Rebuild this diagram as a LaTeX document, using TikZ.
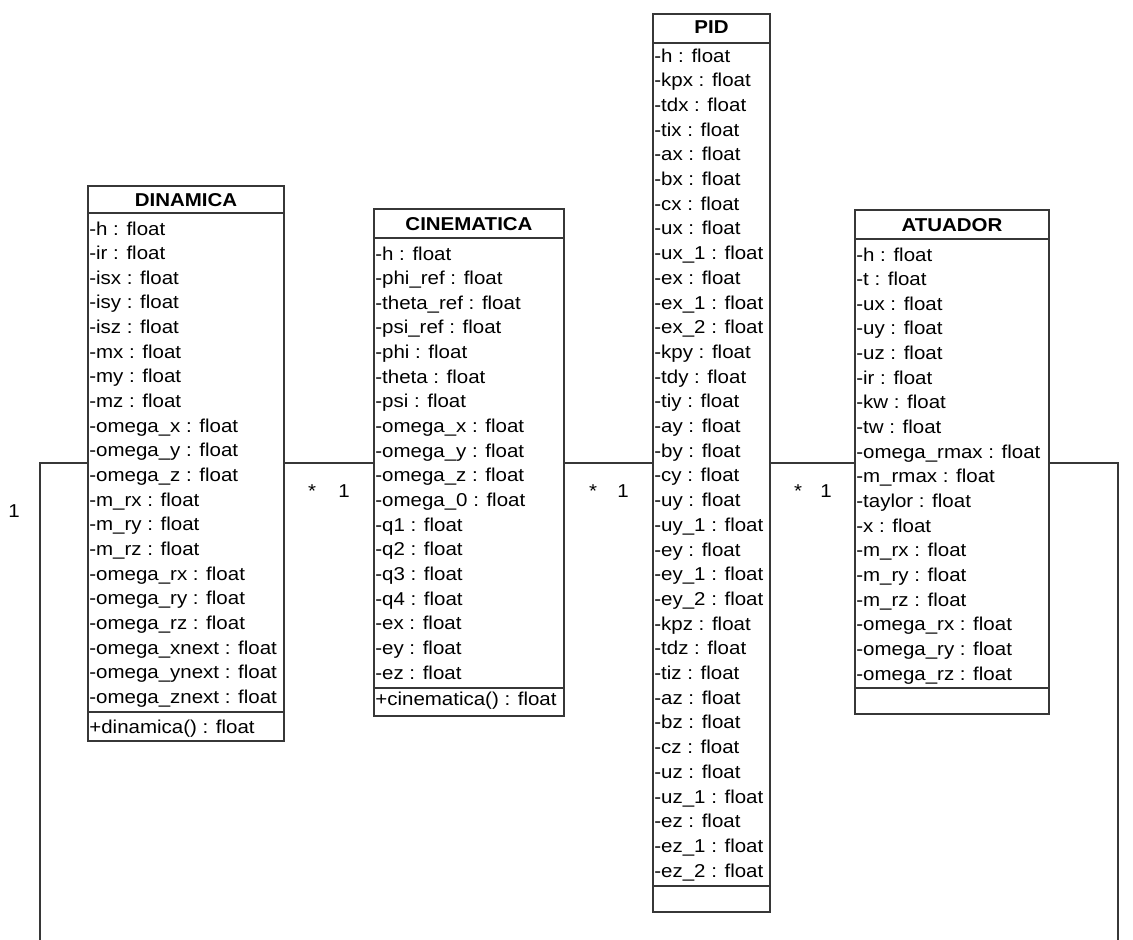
\documentclass[tikz,border=0pt]{standalone}
\usepackage{fontspec}
\setmainfont{Liberation Sans}[FakeStretch=1.1]
\usetikzlibrary{fit}
\definecolor{umlline}{RGB}{55,55,55}

\begin{document}
\begin{tikzpicture}[x=0.02cm, y=-0.02cm,
  every node/.style={font=\fontsize{10.6}{12}\selectfont, inner sep=0pt},
  classbox/.style={draw=umlline, line width=1.1pt, inner sep=0pt},
  sepline/.style={draw=umlline, line width=1.1pt},
  link/.style={draw=umlline, line width=1.1pt},
  attr/.style={anchor=base west},
  classtitle/.style={anchor=base, font=\fontsize{10.6}{12}\selectfont\bfseries},
  mult/.style={anchor=base}]
\useasboundingbox (0,0) rectangle (1133,940);
% class boxes
\coordinate (din nw) at (88,186);  \coordinate (din se) at (284,741);
\coordinate (cin nw) at (374,209); \coordinate (cin se) at (564,716);
\coordinate (pid nw) at (653,14);  \coordinate (pid se) at (770,912);
\coordinate (atu nw) at (855,210); \coordinate (atu se) at (1049,714);
\node[classbox, fit=(din nw)(din se)] (din) {};
\node[classbox, fit=(cin nw)(cin se)] (cin) {};
\node[classbox, fit=(pid nw)(pid se)] (pid) {};
\node[classbox, fit=(atu nw)(atu se)] (atu) {};
% compartments
\draw[sepline] (din.west |- 0,213) -- (din.east |- 0,213);
\draw[sepline] (din.west |- 0,712) -- (din.east |- 0,712);
\draw[sepline] (cin.west |- 0,238) -- (cin.east |- 0,238);
\draw[sepline] (cin.west |- 0,688) -- (cin.east |- 0,688);
\draw[sepline] (pid.west |- 0,43) -- (pid.east |- 0,43);
\draw[sepline] (pid.west |- 0,886) -- (pid.east |- 0,886);
\draw[sepline] (atu.west |- 0,239) -- (atu.east |- 0,239);
\draw[sepline] (atu.west |- 0,688) -- (atu.east |- 0,688);
% titles
\node[classtitle] (din title) at (186,206) {DINAMICA};
\node[classtitle] (cin title) at (469,230) {CINEMATICA};
\node[classtitle] (pid title) at (711.5,33) {PID};
\node[classtitle] (atu title) at (952,231) {ATUADOR};
% DINAMICA
\foreach \a [count=\i from 0] in {h,ir,isx,isy,isz,mx,my,mz,omega\_x,omega\_y,omega\_z,m\_rx,m\_ry,m\_rz,omega\_rx,omega\_ry,omega\_rz,omega\_xnext,omega\_ynext,omega\_znext}
  \node[attr] at (89,{235+24.65*\i}) {-\a{} : float};
\node[attr] (din op) at (89,733) {+dinamica() : float};
% CINEMATICA
\foreach \a [count=\i from 0] in {h,phi\_ref,theta\_ref,psi\_ref,phi,theta,psi,omega\_x,omega\_y,omega\_z,omega\_0,q1,q2,q3,q4,ex,ey,ez}
  \node[attr] at (375,{260+24.65*\i}) {-\a{} : float};
\node[attr] (cin op) at (375,705) {+cinematica() : float};
% PID
\foreach \a [count=\i from 0] in {h,kpx,tdx,tix,ax,bx,cx,ux,ux\_1,ex,ex\_1,ex\_2,kpy,tdy,tiy,ay,by,cy,uy,uy\_1,ey,ey\_1,ey\_2,kpz,tdz,tiz,az,bz,cz,uz,uz\_1,ez,ez\_1,ez\_2}
  \node[attr] at (654,{62+24.7*\i}) {-\a{} : float};
% ATUADOR
\foreach \a [count=\i from 0] in {h,t,ux,uy,uz,ir,kw,tw,omega\_rmax,m\_rmax,taylor,x,m\_rx,m\_ry,m\_rz,omega\_rx,omega\_ry,omega\_rz}
  \node[attr] at (856,{261+24.65*\i}) {-\a{} : float};
% associations
\coordinate (assoc) at (0,463);
\coordinate (loopL) at (40,940);
\coordinate (loopR) at (1118,940);
\draw[link] (din.east |- assoc) -- (cin.west |- assoc);
\draw[link] (cin.east |- assoc) -- (pid.west |- assoc);
\draw[link] (pid.east |- assoc) -- (atu.west |- assoc);
\draw[link] (din.west |- assoc) -| (loopL);
\draw[link] (atu.east |- assoc) -| (loopR);
% multiplicities
\node[mult] (din many) at (312,497) {*};
\node[mult] (cin one) at (344,497) {1};
\node[mult] (cin many) at (593,497) {*};
\node[mult] (pid one) at (623,497) {1};
\node[mult] (pid many) at (798,497) {*};
\node[mult] (atu one) at (826,497) {1};
\node[mult] (loop one) at (14,517) {1};
\end{tikzpicture}
\end{document}
